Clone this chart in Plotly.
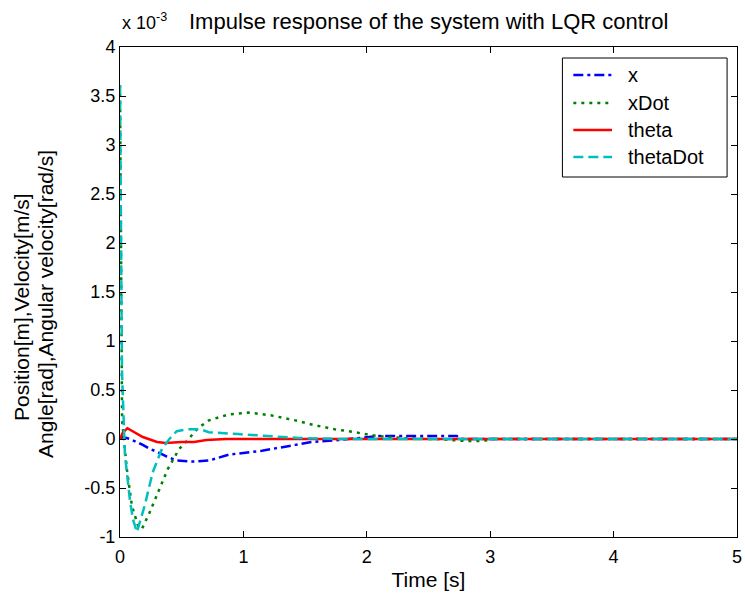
import plotly.graph_objects as go

# values in units of 1e-3
t_x = [0, 0.024, 0.08, 0.185, 0.24, 0.3, 0.38, 0.46, 0.6, 0.72, 0.88, 1.15, 1.42, 1.55, 1.77, 1.95, 2.1, 2.3, 2.5, 2.73, 2.76, 5.0]
v_x = [0, 0.02, 0.0, -0.06, -0.10, -0.13, -0.18, -0.22, -0.23, -0.22, -0.16, -0.12, -0.06, -0.03, -0.01, 0.01, 0.03, 0.03, 0.03, 0.03, 0.0, 0.0]

t_xdot = [0, 0.008, 0.017, 0.035, 0.056, 0.096, 0.145, 0.177, 0.24, 0.32, 0.386, 0.48, 0.55, 0.63, 0.72, 0.88, 1.04, 1.23, 1.42, 1.58, 1.74, 1.9, 2.03, 2.17, 2.35, 2.55, 2.7, 2.8, 2.95, 3.0, 5.0]
v_xdot = [3.61, 1.8, 0.19, -0.05, -0.31, -0.68, -0.88, -0.92, -0.75, -0.51, -0.31, -0.10, -0.01, 0.11, 0.19, 0.25, 0.27, 0.24, 0.19, 0.14, 0.10, 0.07, 0.04, 0.02, 0.005, 0.0, -0.01, -0.02, -0.02, 0.0, 0.0]

t_theta = [0, 0.02, 0.06, 0.185, 0.3, 0.37, 0.5, 0.6, 0.7, 0.86, 1.0, 5.0]
v_theta = [0, 0.06, 0.11, 0.02, -0.03, -0.04, -0.03, -0.03, -0.01, 0.0, 0.0, 0.0]

t_thetadot = [0, 0.008, 0.016, 0.04, 0.08, 0.105, 0.137, 0.2, 0.265, 0.34, 0.4, 0.46, 0.55, 0.65, 0.72, 0.96, 1.29, 1.45, 1.8, 5.0]
v_thetadot = [3.61, 2.1, 0.69, -0.16, -0.62, -0.82, -0.95, -0.68, -0.34, -0.10, 0.0, 0.08, 0.10, 0.10, 0.07, 0.05, 0.02, 0.01, 0.0, 0.0]

names = ["x", "xDot", "theta", "thetaDot"]
colors = ["#0000FF", "#008000", "#FF0000", "#00BFBF"]
dashes = ["10px,4px,3px,4px", "3px,5px", "solid", "10px,5px"]

x_ticks = [0, 1, 2, 3, 4, 5]
y_ticks = [-1, -0.5, 0, 0.5, 1, 1.5, 2, 2.5, 3, 3.5, 4]
y_ticktext = ["-1", "-0.5", "0", "0.5", "1", "1.5", "2", "2.5", "3", "3.5", "4"]

FONT = "Liberation Sans, Arial, sans-serif"

# plot area in pixels (for placing the legend box / labels)
L, R, T, B = 120, 742, 47, 537
def px(x):
    return (x - L) / (R - L)
def py(y):
    return (B - y) / (B - T)

fig = go.Figure()
series = [(t_x, v_x), (t_xdot, v_xdot), (t_theta, v_theta), (t_thetadot, v_thetadot)]
for (tt, vv), n, c, d in zip(series, names, colors, dashes):
    fig.add_trace(go.Scatter(x=tt, y=vv, mode="lines", name=n, showlegend=False,
                             line=dict(color=c, width=2.5, dash=d)))

axis_common = dict(showline=True, linecolor="black", linewidth=1, mirror="ticks",
                   ticks="inside", ticklen=6, tickcolor="black", showgrid=False,
                   zeroline=False, ticklabeloverflow="allow",
                   tickfont=dict(family=FONT, size=18, color="black"))

fig.update_layout(
    width=745, height=599,
    margin=dict(l=L, r=745 - R, t=T, b=599 - B),
    paper_bgcolor="white", plot_bgcolor="white",
    font=dict(family=FONT, size=18, color="black"),
    xaxis=dict(range=[0, 5], tickvals=x_ticks, ticktext=[str(v) for v in x_ticks],
               ticklabelstandoff=3,
               title=dict(text="Time [s]", font=dict(family=FONT, size=21), standoff=6),
               **axis_common),
    yaxis=dict(range=[-1, 4], tickvals=y_ticks, ticktext=y_ticktext, **axis_common),
    showlegend=False,
)

# legend box
fig.add_shape(type="rect", xref="paper", yref="paper",
              x0=px(566), x1=px(732), y0=py(177), y1=py(58),
              line=dict(color="black", width=1), fillcolor="white", layer="above")
row_y = [75, 103, 130, 157]
for n, c, d, ry in zip(names, colors, dashes, row_y):
    fig.add_shape(type="line", xref="paper", yref="paper",
                  x0=px(577), x1=px(616), y0=py(ry), y1=py(ry),
                  line=dict(color=c, width=2.5, dash=d), layer="above")
    fig.add_annotation(xref="paper", yref="paper", x=px(630), y=py(ry),
                       xanchor="left", yanchor="middle", showarrow=False, text=n,
                       font=dict(family=FONT, size=20, color="black"))

fig.add_annotation(xref="paper", yref="paper", x=0, y=1, xanchor="left", yanchor="middle",
                   yshift=26, showarrow=False, text="x 10<sup>-3</sup>",
                   font=dict(family=FONT, size=18, color="black"))
fig.add_annotation(xref="paper", yref="paper", x=0.5, y=1, xanchor="center", yanchor="middle",
                   yshift=26, showarrow=False,
                   text="Impulse response of the system with LQR control",
                   font=dict(family=FONT, size=22, color="black"))
fig.add_annotation(xref="paper", yref="paper", x=0, y=py(307), xanchor="center", yanchor="middle",
                   xshift=22 - L, showarrow=False, textangle=-90,
                   text="Position[m],Velocity[m/s]",
                   font=dict(family=FONT, size=21, color="black"))
fig.add_annotation(xref="paper", yref="paper", x=0, y=py(304), xanchor="center", yanchor="middle",
                   xshift=45 - L, showarrow=False, textangle=-90,
                   text="Angle[rad],Angular velocity[rad/s]",
                   font=dict(family=FONT, size=21, color="black"))

fig.write_html("out.html")
